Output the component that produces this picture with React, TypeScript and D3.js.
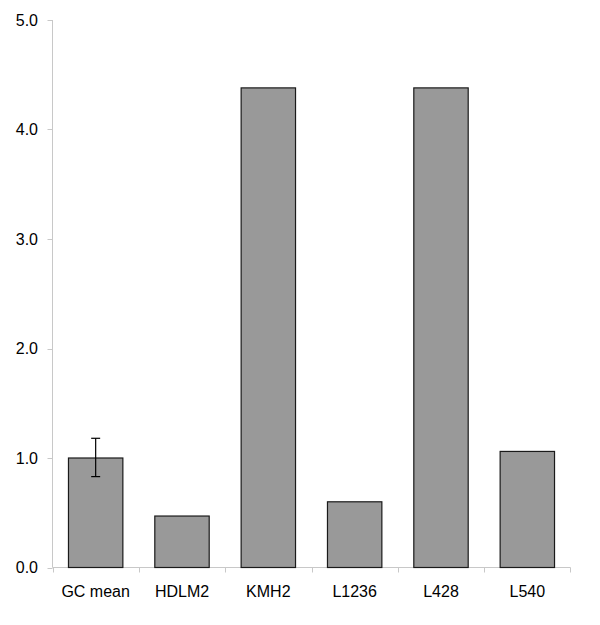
import React from "react";
import * as d3 from "d3";

const categories = ["GC mean", "HDLM2", "KMH2", "L1236", "L428", "L540"];
const values = [1.0, 0.47, 4.38, 0.6, 4.38, 1.06];
const errLow = [0.83, null, null, null, null, null];
const errHigh = [1.18, null, null, null, null, null];
const yTicks = [0, 1, 2, 3, 4, 5];

export default function App() {
  const W = 600, H = 625;
  const left = 52.5, right = 570.5, top = 20, bottom = 567.5;
  const x = d3.scaleBand<string>().domain(categories).range([left, right]).padding(0);
  const y = d3.scaleLinear().domain([0, 5]).range([bottom, top]);
  const bw = x.bandwidth() * 0.63;
  const axisColor = "#c8c8c8";
  const font = "'Liberation Sans', Arial, sans-serif";
  return (
    <svg width={W} height={H} style={{ position: "absolute", left: 0, top: 0, background: "#fff" }}>
      {/* y axis */}
      <line x1={left} x2={left} y1={top} y2={bottom} stroke={axisColor} />
      {yTicks.map((t) => (
        <g key={t}>
          <line x1={left - 5} x2={left} y1={Math.round(y(t)) + 0.5} y2={Math.round(y(t)) + 0.5} stroke={axisColor} />
          <text x={38} y={y(t) + 5.8} textAnchor="end" fontFamily={font} fontSize={16} fill="#000">
            {t.toFixed(1)}
          </text>
        </g>
      ))}
      {/* x axis */}
      <line x1={left} x2={right} y1={bottom} y2={bottom} stroke={axisColor} />
      {categories.map((c, i) => (
        <line key={"xt" + i} x1={Math.round(x(c)!) + 0.5} x2={Math.round(x(c)!) + 0.5} y1={bottom} y2={bottom + 5} stroke={axisColor} />
      ))}
      <line x1={right} x2={right} y1={bottom} y2={bottom + 5} stroke={axisColor} />
      {/* bars */}
      {categories.map((c, i) => {
        const cx = x(c)! + x.bandwidth() / 2;
        return (
          <rect key={c} x={cx - bw / 2} y={y(values[i])} width={bw} height={y(0) - y(values[i])}
            fill="#999999" stroke="#1a1a1a" strokeWidth={1.2} />
        );
      })}
      {/* error bars */}
      {categories.map((c, i) => {
        if (errLow[i] == null || errHigh[i] == null) return null;
        const cx = x(c)! + x.bandwidth() / 2;
        return (
          <g key={"e" + i} stroke="#000" strokeWidth={1.2}>
            <line x1={cx} x2={cx} y1={y(errHigh[i]!)} y2={y(errLow[i]!)} />
            <line x1={cx - 4.5} x2={cx + 4.5} y1={y(errHigh[i]!)} y2={y(errHigh[i]!)} />
            <line x1={cx - 4.5} x2={cx + 4.5} y1={y(errLow[i]!)} y2={y(errLow[i]!)} />
          </g>
        );
      })}
      {/* category labels */}
      {categories.map((c) => (
        <text key={"l" + c} x={x(c)! + x.bandwidth() / 2} y={597} textAnchor="middle" fontFamily={font} fontSize={16} fill="#000">
          {c}
        </text>
      ))}
    </svg>
  );
}
